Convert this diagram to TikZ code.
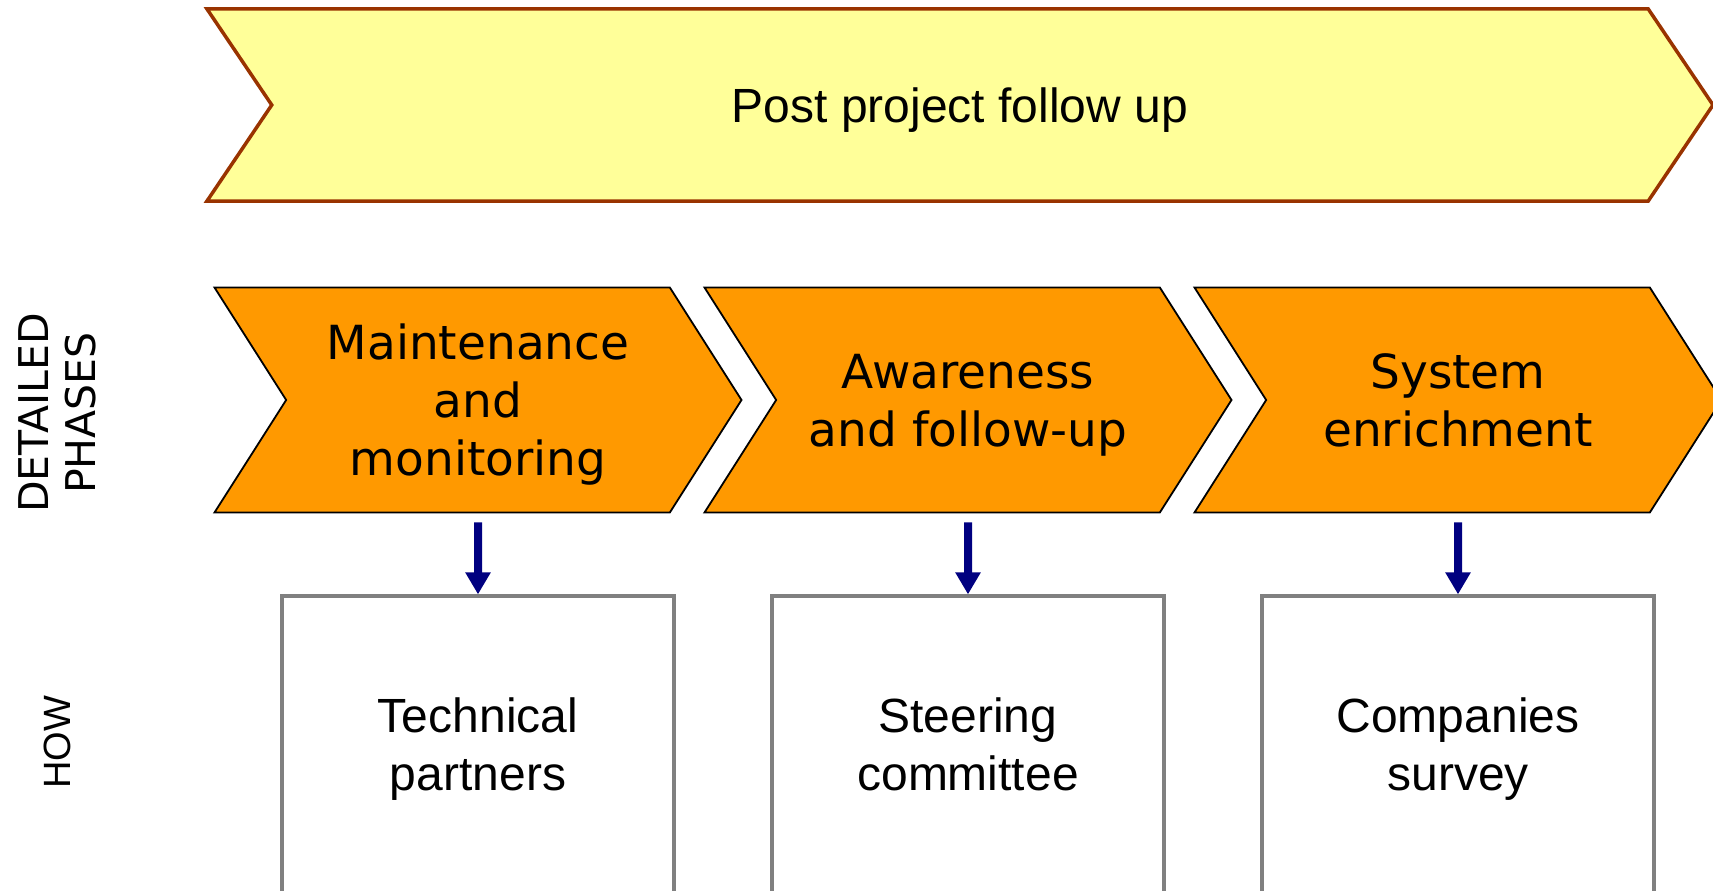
\documentclass[tikz,border=0pt]{standalone}
\usepackage{fontspec}
\setmainfont{Liberation Sans}
\newfontfamily\verdana{DejaVu Sans}
\usepackage{xcolor}
\usetikzlibrary{shapes,arrows.meta,positioning}

\definecolor{followfill}{HTML}{FFFF99}
\definecolor{followline}{HTML}{993300}
\definecolor{phasefill}{HTML}{FF9900}
\definecolor{howline}{HTML}{808080}
\definecolor{arrowblue}{HTML}{000080}

\begin{document}
\begin{tikzpicture}[x=1pt, y=-1pt,
        banner/.style={signal, signal from=west, signal to=east, signal pointer angle=112, draw=followline, line width=3.5pt, fill=followfill, minimum width=1506pt, minimum height=192pt, inner sep=0pt, text depth=0pt, font=\fontsize{48}{58}\selectfont},
        phase/.style={signal, signal from=west, signal to=east, signal pointer angle=115, draw=black, line width=1.8pt, fill=phasefill, minimum width=527pt, minimum height=225pt, inner sep=0pt, text depth=0pt, align=center, font=\verdana\fontsize{47}{58}\selectfont},
        how/.style={rectangle, draw=howline, line width=3.5pt, minimum width=392pt, minimum height=306pt, text depth=11pt, align=center, font=\fontsize{48}{58}\selectfont},
        arr/.style={-{Triangle[width=24pt,length=22pt]}, line width=8pt, draw=arrowblue, shorten <=9pt},
        side/.style={rotate=90, align=center}
    ]
        \clip (0,0) rectangle (1713,891);

        % Overall phase
        \node[banner] (post) at (960,105) {Post project follow up};

        % Detailed phases
        \node[phase] (ph1) at (478,400) {Maintenance\\and\\monitoring};
        \node[phase] (ph2) at (968,400) {Awareness\\and follow-up};
        \node[phase] (ph3) at (1458,400) {System\\enrichment};

        % How
        \node[how, below=81pt of ph1] (hw1) {Technical\\partners};
        \node[how, below=81pt of ph2] (hw2) {Steering\\committee};
        \node[how, below=81pt of ph3] (hw3) {Companies\\survey};

        % Arrows
        \draw[arr] (ph1) -- (hw1);
        \draw[arr] (ph2) -- (hw2);
        \draw[arr] (ph3) -- (hw3);

        % Row labels
        \node[side, font=\verdana\fontsize{41}{47}\selectfont] (lbphase) at (57,413) {DETAILED\\PHASES};
        \node[side, font=\fontsize{38}{46}\selectfont] (lbhow) at (57,742) {HOW};
    \end{tikzpicture}
\end{document}
